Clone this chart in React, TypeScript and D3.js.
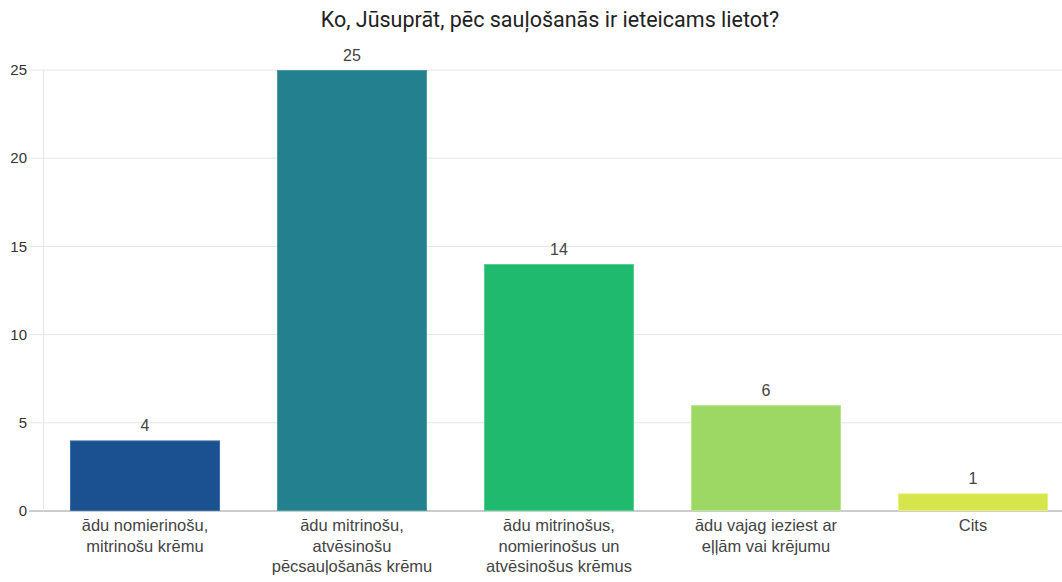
import React from "react";
import * as d3 from "d3";

const title = "Ko, Jūsuprāt, pēc sauļošanās ir ieteicams lietot?";
const categories = [
  ["ādu nomierinošu,", "mitrinošu krēmu"],
  ["ādu mitrinošu,", "atvēsinošu", "pēcsauļošanās krēmu"],
  ["ādu mitrinošus,", "nomierinošus un", "atvēsinošus krēmus"],
  ["ādu vajag ieziest ar", "eļļām vai krējumu"],
  ["Cits"],
];
const values = [4, 25, 14, 6, 1];
const yTicks = [0, 5, 10, 15, 20, 25];
const fills = ["#1b5191", "#23818f", "#1fba6e", "#9dd764", "#d6e54c"];
const strokes = ["#3a6ea8", "#4a9aa6", "#52d08f", "#b8e68a", "#e6f07a"];

export default function App() {
  const W = 1062;
  const H = 582;
  const x = d3
    .scaleBand<number>()
    .domain(values.map((_, i) => i))
    .range([41.5, 1076.5])
    .paddingInner(0.275)
    .paddingOuter(0.1375);
  const y = d3.scaleLinear().domain([0, 25]).range([511, 70]);
  const font = "'Liberation Sans', Arial, sans-serif";
  return (
    <svg
      width={W}
      height={H}
      style={{ position: "absolute", left: 0, top: 0, background: "#fff" }}
    >
      <text
        x={550}
        y={27}
        textAnchor="middle"
        fontFamily="Roboto, Arial, sans-serif"
        fontSize={21.5}
        fill="#222"
      >
        {title}
      </text>
      {yTicks.map((t) => (
        <g key={t}>
          <line
            x1={29}
            x2={W}
            y1={y(t)}
            y2={y(t)}
            stroke={t === 0 ? "#cccccc" : "#e6e6e6"}
            strokeWidth={t === 0 ? 2 : 1}
          />
          <text
            x={27}
            y={y(t)}
            dy="0.35em"
            textAnchor="end"
            fontFamily={font}
            fontSize={15}
            fill="#333"
          >
            {t}
          </text>
        </g>
      ))}
      <line x1={43.5} x2={43.5} y1={70} y2={511} stroke="#e6e6e6" />
      {values.map((v, i) => (
        <g key={i}>
          <rect
            x={x(i)! + 0.5}
            y={y(v) + 0.5}
            width={x.bandwidth() - 1}
            height={y(0) - y(v) - 1}
            fill={fills[i]}
            stroke={strokes[i]}
            strokeWidth={1}
          />
          <text
            x={x(i)! + x.bandwidth() / 2}
            y={y(v) - 9}
            textAnchor="middle"
            fontFamily={font}
            fontSize={16}
            fill="#444"
          >
            {v}
          </text>
          {categories[i].map((line, j) => (
            <text
              key={j}
              x={x(i)! + x.bandwidth() / 2}
              y={531 + j * 20.5}
              textAnchor="middle"
              fontFamily={font}
              fontSize={16.5}
              fill="#444"
            >
              {line}
            </text>
          ))}
        </g>
      ))}
    </svg>
  );
}
